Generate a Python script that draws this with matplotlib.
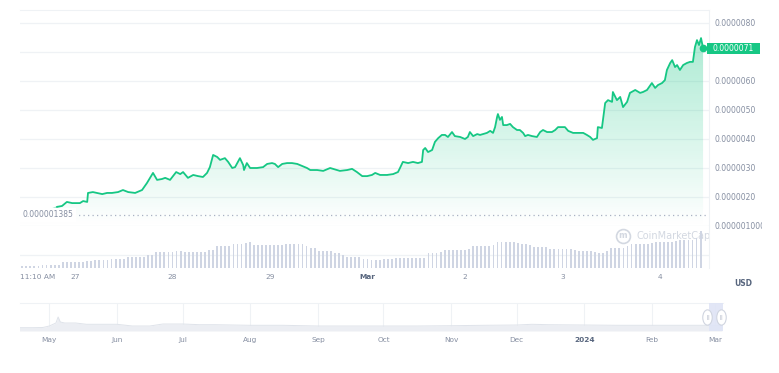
import matplotlib
matplotlib.use("Agg")
import matplotlib.pyplot as plt
import matplotlib.dates as mdates
import numpy as np
from matplotlib.colors import LinearSegmentedColormap
from matplotlib.patches import Rectangle
from matplotlib.path import Path
from matplotlib.transforms import Affine2D, Bbox, TransformedBbox, blended_transform_factory

# ---- price, hours after 27 Feb 2024 00:00, USD x 1e-6 ----
hours = [
    -13.5, -13.1, -9.9, -8.6, -6.2, -4.4, -3.2, -2.0, -0.7, 0.5,
    1.2, 2.0, 3.0, 3.2, 4.4, 5.4, 6.7, 7.9, 9.1, 10.6,
    11.8, 13.1, 14.8, 16.5, 17.7, 19.2, 20.2, 21.4, 22.2, 23.4,
    24.9, 25.9, 26.6, 27.8, 29.1, 30.3, 31.5, 32.5, 33.2, 34.0,
    35.0, 35.7, 36.9, 37.7, 38.7, 39.4, 40.6, 41.4, 41.6, 42.3,
    43.1, 44.8, 46.3, 47.3, 48.5, 49.2, 50.0, 51.0, 52.2, 53.4,
    54.7, 55.9, 57.1, 57.9, 59.6, 61.1, 62.8, 63.5, 65.2, 67.0,
    68.2, 69.4, 70.7, 71.9, 73.1, 73.9, 75.1, 76.8, 78.3, 79.5,
    80.0, 80.7, 82.0, 83.2, 84.4, 85.4, 85.7, 86.2, 86.9, 87.9,
    88.6, 89.4, 90.3, 91.1, 91.8, 92.8, 93.5, 94.8, 96.0, 96.7,
    97.2, 98.0, 99.0, 99.7, 100.4, 101.4, 102.2, 102.9, 103.4, 103.9,
    104.1, 104.6, 105.1, 105.4, 106.3, 107.1, 107.8, 108.8, 109.5, 110.3,
    110.8, 111.5, 112.5, 113.7, 114.5, 115.2, 116.2, 117.4, 118.2, 118.9,
    119.9, 120.6, 121.4, 122.6, 123.8, 125.1, 126.0, 126.8, 127.5, 128.5,
    128.7, 129.7, 130.5, 131.2, 132.2, 132.4, 133.4, 134.2, 134.9, 135.9,
    136.6, 137.9, 139.1, 139.8, 140.8, 142.0, 142.8, 143.5, 144.5, 145.2,
    145.7, 146.5, 147.0, 147.7, 148.2, 148.9, 149.7, 150.6, 151.4, 152.1,
    152.6, 153.1, 153.6, 154.1, 154.6,
]
price_micro = [
    1.45, 1.45, 1.48, 1.55, 1.55, 1.66, 1.69, 1.83, 1.79, 1.79,
    1.79, 1.86, 1.83, 2.14, 2.17, 2.14, 2.10, 2.14, 2.14, 2.17,
    2.24, 2.17, 2.14, 2.24, 2.48, 2.83, 2.59, 2.62, 2.66, 2.59,
    2.86, 2.79, 2.86, 2.66, 2.76, 2.72, 2.69, 2.83, 3.03, 3.45,
    3.38, 3.28, 3.34, 3.21, 3.00, 3.03, 3.34, 3.10, 2.93, 3.17,
    3.00, 3.00, 3.03, 3.14, 3.17, 3.14, 3.03, 3.14, 3.17, 3.17,
    3.14, 3.07, 3.00, 2.93, 2.93, 2.90, 3.00, 2.97, 2.90, 2.93,
    2.97, 2.86, 2.72, 2.72, 2.76, 2.83, 2.76, 2.76, 2.79, 2.86,
    3.00, 3.21, 3.17, 3.21, 3.17, 3.21, 3.62, 3.69, 3.55, 3.62,
    3.90, 4.03, 4.14, 4.14, 4.07, 4.24, 4.10, 4.07, 4.00, 4.07,
    4.24, 4.10, 4.17, 4.14, 4.17, 4.21, 4.28, 4.21, 4.41, 4.76,
    4.86, 4.66, 4.76, 4.48, 4.48, 4.52, 4.41, 4.31, 4.31, 4.21,
    4.10, 4.14, 4.10, 4.07, 4.24, 4.31, 4.24, 4.24, 4.31, 4.41,
    4.41, 4.41, 4.28, 4.21, 4.21, 4.21, 4.14, 4.07, 3.97, 4.03,
    4.41, 4.38, 5.24, 5.34, 5.28, 5.62, 5.34, 5.45, 5.10, 5.28,
    5.59, 5.69, 5.59, 5.62, 5.69, 5.93, 5.76, 5.86, 5.93, 6.03,
    6.38, 6.62, 6.72, 6.48, 6.55, 6.38, 6.55, 6.62, 6.66, 6.66,
    7.17, 7.41, 7.24, 7.48, 7.13,
]
low_7d = 0.000001385
last_label = "0.0000071"

# ---- volume bars, one per hour (relative units) ----
vol_hours = list(range(-13, 155))
volume = [
    2.3, 2.3, 2.3, 2.3, 2.5, 3.3, 3.3, 3.3, 3.3, 3.3, 5.7, 5.7,
    5.7, 5.7, 5.7, 5.7, 6.7, 6.7, 8.3, 8.3, 8.3, 8.3, 9.3, 9.3,
    9.3, 9.3, 10.7, 10.7, 10.7, 10.7, 11.5, 13.3, 13.3, 16, 16, 16,
    16, 16, 17, 17, 16, 16, 16, 16, 16, 16, 18.3, 18.3,
    21.7, 21.7, 21.7, 22.5, 24.3, 24.3, 24.3, 25, 25.7, 23.3, 23.3, 23.3,
    23.3, 23.3, 23.3, 23.3, 23.3, 23.7, 23.7, 23.7, 23.7, 23.7, 22, 20,
    20, 17.3, 17.3, 17.3, 17.3, 15, 15, 13, 10.7, 10.7, 10.7, 10.7,
    9.3, 9.3, 8.3, 8.3, 8.3, 8.8, 9.3, 9.3, 10, 10, 10, 10,
    10, 10, 10, 10, 15, 15, 15, 16.5, 18.3, 18.3, 18.3, 18.3,
    18.3, 18.3, 19.5, 21.7, 21.7, 21.7, 21.7, 21.7, 23, 26, 26, 26,
    26, 26, 25, 24.3, 24.3, 23, 21, 21, 21, 21, 19.3, 19.3,
    19.3, 19.3, 19.3, 19.3, 18.3, 17.3, 17.3, 17.3, 17.3, 16, 15, 15,
    17, 20, 20, 20, 20, 22, 24, 24, 24, 24, 24, 25,
    25.7, 25.7, 25.7, 25.7, 25.7, 27, 28.3, 28.3, 28.3, 28.3, 30, 36.7,
]

date_ticks = [-13.54, 0, 24, 48, 72, 96, 120, 144]
date_labels = ["11:10 AM", "27", "28", "29", "Mar", "2", "3", "4"]
# the 0.0000070 label sits under the price tag, so it is left blank
price_ticks = [1e-6, 2e-6, 3e-6, 4e-6, 5e-6, 6e-6, 7e-6, 8e-6]
price_labels = ["0.000001000", "0.0000020", "0.0000030", "0.0000040",
                "0.0000050", "0.0000060", "", "0.0000080"]

# ---- navigator (1 year overview) ----
nav_dates = ["2023-04-17", "2023-04-23", "2023-04-28", "2023-05-01", "2023-05-02",
             "2023-05-04", "2023-05-05", "2023-05-06", "2023-05-08", "2023-05-13",
             "2023-05-18", "2023-05-24", "2023-06-01", "2023-06-08", "2023-06-16",
             "2023-06-22", "2023-07-01", "2023-07-09", "2023-07-16", "2023-07-24",
             "2023-08-01", "2023-08-16", "2023-09-01", "2023-09-16", "2023-10-01",
             "2023-10-16", "2023-11-01", "2023-11-16", "2023-12-01", "2023-12-08",
             "2023-12-16", "2024-01-01", "2024-01-16", "2024-02-01", "2024-02-16",
             "2024-03-04"]
nav_values = [3.3, 3.3, 3.5, 5, 6, 8, 14, 9, 8, 8,
              6.7, 6.7, 6.7, 5, 5, 7, 7, 6.3, 6.3, 6,
              5.7, 5.7, 5, 5, 5, 5, 5.3, 5.7, 6, 6.7,
              6.3, 6, 5.7, 5.7, 5.7, 5.7]
nav_months = ["2023-05-01", "2023-06-01", "2023-07-01", "2023-08-01", "2023-09-01",
              "2023-10-01", "2023-11-01", "2023-12-01", "2024-01-01", "2024-02-01",
              "2024-03-01"]
nav_month_labels = ["May", "Jun", "Jul", "Aug", "Sep", "Oct", "Nov", "Dec", "2024", "Feb", "Mar"]

GREEN = "#16c784"
GRID = "#eff2f5"
TXT = "#858ea1"
DARK = "#58667e"

W, H = 779, 373


def box(x0, y0, x1, y1):
    return [x0 / W, 1 - y1 / H, (x1 - x0) / W, (y1 - y0) / H]


fig = plt.figure(figsize=(W / 100, H / 100), dpi=100)
ax = fig.add_axes(box(20, 10, 709, 226))
axv = fig.add_axes(box(20, 226, 709, 268), sharex=ax)
axn = fig.add_axes(box(20, 303, 723, 331))

h = np.array(hours)
p = np.array(price_micro) * 1e-6
xmin, xmax = -13.54, 156.06
ymin, ymax = 1.0e-6, 8.448e-6

# gradient fill under the line
poly = ax.fill_between(h, p, ymin, color="none", lw=0)
cmap = LinearSegmentedColormap.from_list(
    "g", [(0.086, 0.78, 0.52, 0.0), (0.086, 0.78, 0.52, 0.36)])
grad = np.linspace(0, 1, 256).reshape(-1, 1)
im = ax.imshow(grad, extent=[xmin, xmax, ymin, 7.6e-6], origin="lower",
               aspect="auto", cmap=cmap, zorder=1)
im.set_clip_path(poly.get_paths()[0], transform=ax.transData)

ax.plot(h[:6], p[:6], color=GREEN, lw=1.2, alpha=0.35, zorder=3)
ax.plot(h[5:], p[5:], color=GREEN, lw=1.3, zorder=3, solid_joinstyle="round")
ax.plot(h[-1], p[-1], "o", color=GREEN, ms=4.5, zorder=4)

ax.axhline(low_7d, color="#a9b2c3", lw=0.9, ls=(0, (1, 2.6)), zorder=2)
ax.text(0.0035, low_7d, "0.000001385", transform=blended_transform_factory(ax.transAxes, ax.transData),
        fontsize=5.5, color=TXT, va="center", ha="left", zorder=5,
        bbox=dict(boxstyle="square,pad=0.35", fc="white", ec="none"))

ax.set_xlim(xmin, xmax)
ax.set_ylim(ymin, ymax)
ax.set_yticks(price_ticks)
ax.set_yticklabels(price_labels)
ax.yaxis.tick_right()
ax.tick_params(axis="y", length=0, pad=4.3, labelsize=5.5, labelcolor=TXT)
ax.tick_params(axis="x", length=0, labelbottom=False)
ax.grid(axis="y", color=GRID, lw=0.9)
for side in ["left", "bottom"]:
    ax.spines[side].set_visible(False)
for side in ["top", "right"]:
    ax.spines[side].set_color(GRID)
ax.set_axisbelow(True)

# clip the bottom price label like the reference
lbl = ax.get_yticklabels()[0]
lbl.set_clip_box(TransformedBbox(Bbox([[0, 0], [762 / W, 1]]), fig.transFigure))
lbl.set_clip_on(True)

# last price tag
tr = blended_transform_factory(ax.transAxes, ax.transData)
ax.add_patch(Rectangle((1 - 2 / 689, p[-1] - 0.19e-6), 53 / 689, 0.38e-6, transform=tr,
                       fc=GREEN, ec="none", clip_on=False, zorder=6))
ax.text(1 + 24.5 / 689, p[-1], last_label, transform=tr, ha="center", va="center",
        fontsize=5.5, color="white", zorder=7, clip_on=False)

# volume pane
axv.bar(vol_hours, volume, width=0.45, color="#cfd5e3", lw=0, zorder=2)
axv.set_ylim(0, 42)
axv.set_yticks([13])
axv.grid(axis="y", color=GRID, lw=0.9)
axv.set_axisbelow(True)
axv.tick_params(axis="y", length=0, labelright=False, labelleft=False)
axv.set_xticks(date_ticks)
axv.set_xticklabels(date_labels)
axv.tick_params(axis="x", length=0, pad=4, labelsize=5.3, labelcolor=TXT)
for t in axv.get_xticklabels():
    if t.get_text() == "11:10 AM":
        t.set_ha("left")
    if t.get_text() == "Mar":
        t.set_fontweight("bold")
        t.set_color(DARK)
for side in ["left", "top", "bottom"]:
    axv.spines[side].set_visible(False)
axv.spines["right"].set_color(GRID)

# watermark
axv.plot([134.9], [32], "o", ms=10, mfc="none", mec="#d3d8e1", mew=1.2, zorder=1, clip_on=False)
axv.text(134.9, 32, "m", fontsize=6, color="#d3d8e1", ha="center", va="center",
         fontweight="bold", zorder=1)
axv.text(138.2, 32, "CoinMarketCap", fontsize=7, color="#d3d8e1", ha="left",
         va="center", zorder=1, clip_on=False)

# navigator
nd = mdates.date2num(np.array(nav_dates, dtype="datetime64[D]"))
axn.fill_between(nd, nav_values, 0, color="#eceef3", lw=0)
axn.plot(nd, nav_values, color="#dfe3ea", lw=0.7)
nav_start = mdates.date2num(np.datetime64("2023-04-17T13:00"))
nav_end = mdates.date2num(np.datetime64("2024-03-04T12:00"))
axn.set_xlim(nav_start, nav_end)
axn.set_ylim(0, 28)
mt = mdates.date2num(np.array(nav_months, dtype="datetime64[D]"))
axn.set_xticks(mt)
axn.set_xticklabels(nav_month_labels)
axn.tick_params(axis="x", length=0, pad=4, labelsize=5.3, labelcolor=TXT)
axn.tick_params(axis="y", length=0, labelleft=False)
for t in axn.get_xticklabels():
    if t.get_text() == "2024":
        t.set_fontweight("bold")
        t.set_color(DARK)
axn.grid(axis="x", color=GRID, lw=0.8)
axn.set_axisbelow(True)
for side in ["left", "right", "bottom"]:
    axn.spines[side].set_visible(False)
axn.spines["top"].set_color(GRID)

sel_start = mdates.date2num(np.datetime64("2024-02-26T21:00"))
axn.axvspan(sel_start, nav_end, color="#dfe4f6", alpha=0.9, lw=0, zorder=3)
handle = Path.unit_circle().transformed(Affine2D().scale(0.62, 1.0))
axn.plot([sel_start - 0.5, nav_end - 1.0], [14, 14], ls="none", marker=handle, ms=11,
         mfc="white", mec="#d0d5e0", mew=0.8, zorder=5, clip_on=False)
for xx in [sel_start - 0.5, nav_end - 1.0]:
    axn.text(xx, 14, "ǁ", fontsize=4, color="#b0b7c6", ha="center", va="center", zorder=6)

fig.text(743 / W, 1 - 284 / H, "USD", fontsize=5.5, fontweight="bold", color=DARK,
         ha="center", va="center")

fig.savefig("out.png", dpi=100, facecolor="white")
